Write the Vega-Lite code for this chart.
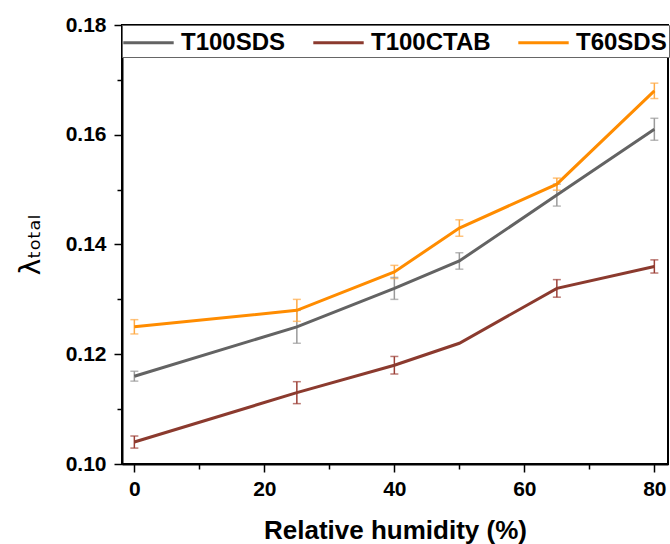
{
  "$schema": "https://vega.github.io/schema/vega-lite/v6.json",
  "width": 546,
  "height": 439,
  "autosize": {"type": "none"},
  "padding": {"left": 122, "top": 25, "right": 2, "bottom": 80},
  "background": "white",
  "config": {
    "view": {"stroke": "black", "strokeWidth": 2},
    "font": "Liberation Sans",
    "axis": {
      "grid": false,
      "domainColor": "black",
      "domainWidth": 2,
      "tickColor": "black",
      "tickWidth": 1.5,
      "labelFont": "Liberation Sans",
      "labelFontWeight": "bold",
      "labelFontSize": 21,
      "labelColor": "black",
      "titleFont": "Liberation Sans",
      "titleFontWeight": "bold",
      "titleColor": "black"
    }
  },
  "data": {
    "values": [
      {"series": "T100SDS", "rh": 0, "lam": 0.116, "lo": 0.1151, "hi": 0.1169},
      {"series": "T100SDS", "rh": 25, "lam": 0.125, "lo": 0.122, "hi": 0.128},
      {"series": "T100SDS", "rh": 40, "lam": 0.132, "lo": 0.130, "hi": 0.134},
      {"series": "T100SDS", "rh": 50, "lam": 0.137, "lo": 0.1355, "hi": 0.1385},
      {"series": "T100SDS", "rh": 65, "lam": 0.149, "lo": 0.147, "hi": 0.151},
      {"series": "T100SDS", "rh": 80, "lam": 0.161, "lo": 0.159, "hi": 0.163},
      {"series": "T100CTAB", "rh": 0, "lam": 0.104, "lo": 0.1029, "hi": 0.1051},
      {"series": "T100CTAB", "rh": 25, "lam": 0.113, "lo": 0.111, "hi": 0.115},
      {"series": "T100CTAB", "rh": 40, "lam": 0.118, "lo": 0.1164, "hi": 0.1196},
      {"series": "T100CTAB", "rh": 50, "lam": 0.122, "lo": null, "hi": null},
      {"series": "T100CTAB", "rh": 65, "lam": 0.132, "lo": 0.1304, "hi": 0.1336},
      {"series": "T100CTAB", "rh": 80, "lam": 0.136, "lo": 0.1348, "hi": 0.1372},
      {"series": "T60SDS", "rh": 0, "lam": 0.125, "lo": 0.1237, "hi": 0.1263},
      {"series": "T60SDS", "rh": 25, "lam": 0.128, "lo": 0.126, "hi": 0.130},
      {"series": "T60SDS", "rh": 40, "lam": 0.135, "lo": 0.1338, "hi": 0.1362},
      {"series": "T60SDS", "rh": 50, "lam": 0.143, "lo": 0.1415, "hi": 0.1445},
      {"series": "T60SDS", "rh": 65, "lam": 0.151, "lo": 0.1499, "hi": 0.1521},
      {"series": "T60SDS", "rh": 80, "lam": 0.168, "lo": 0.1666, "hi": 0.1694}
    ]
  },
  "layer": [
    {
      "mark": {"type": "rule", "strokeWidth": 1.5},
      "encoding": {
        "x": {"field": "rh", "type": "quantitative", "scale": {"domain": [-1.9, 82.1], "nice": false, "zero": false},
          "axis": {"values": [10, 30, 50, 70], "labels": false, "domain": false, "tickSize": 5, "title": null, "orient": "bottom"}},
        "y": {"field": "lo", "type": "quantitative", "scale": {"domain": [0.10, 0.18], "nice": false, "zero": false},
          "axis": {"values": [0.11, 0.13, 0.15, 0.17], "labels": false, "domain": false, "tickSize": 5, "title": null, "orient": "left"}},
        "y2": {"field": "hi"},
        "color": {"field": "series", "type": "nominal", "legend": null,
          "scale": {"domain": ["T100SDS", "T100CTAB", "T60SDS"], "range": ["#9a9a9a", "#9c3f36", "#ffaa44"]}}
      }
    },
    {
      "mark": {"type": "tick", "orient": "horizontal", "size": 8, "thickness": 1.5},
      "encoding": {
        "x": {"field": "rh", "type": "quantitative", "axis": null},
        "y": {"field": "lo", "type": "quantitative", "axis": null},
        "color": {"field": "series", "type": "nominal", "legend": null,
          "scale": {"domain": ["T100SDS", "T100CTAB", "T60SDS"], "range": ["#9a9a9a", "#9c3f36", "#ffaa44"]}}
      }
    },
    {
      "mark": {"type": "tick", "orient": "horizontal", "size": 8, "thickness": 1.5},
      "encoding": {
        "x": {"field": "rh", "type": "quantitative", "axis": null},
        "y": {"field": "hi", "type": "quantitative", "axis": null},
        "color": {"field": "series", "type": "nominal", "legend": null,
          "scale": {"domain": ["T100SDS", "T100CTAB", "T60SDS"], "range": ["#9a9a9a", "#9c3f36", "#ffaa44"]}}
      }
    },
    {
      "mark": {"type": "line", "strokeWidth": 3},
      "encoding": {
        "x": {"field": "rh", "type": "quantitative",
          "axis": {"values": [0, 20, 40, 60, 80], "tickSize": 8, "labelPadding": 6, "title": "Relative humidity (%)", "titleFontSize": 26, "titlePadding": 18, "orient": "bottom"}},
        "y": {"field": "lam", "type": "quantitative",
          "axis": {"values": [0.10, 0.12, 0.14, 0.16, 0.18], "format": ".2f", "tickSize": 8, "labelPadding": 8, "title": "λₜₒₜₐₗ", "titleFontSize": 28, "titleFontWeight": "normal", "titleFont": "DejaVu Sans", "titlePadding": 20, "orient": "left"}},
        "color": {"field": "series", "type": "nominal",
          "scale": {"domain": ["T100SDS", "T100CTAB", "T60SDS"], "range": ["#636363", "#8b3a2e", "#ff8c00"]},
          "legend": {
            "title": null,
            "orient": "none",
            "legendX": 0,
            "legendY": 0,
            "direction": "horizontal",
            "symbolType": "M-1.8,0H1.8",
            "symbolSize": 784,
            "symbolStrokeWidth": 3,
            "symbolOffset": 9,
            "labelFont": "Liberation Sans",
            "labelFontWeight": "bold",
            "labelFontSize": 24,
            "labelColor": "black",
            "labelOffset": 17,
            "columnPadding": 21,
            "padding": 2,
            "strokeColor": "#666666",
            "fillColor": "white"
          }
        }
      }
    }
  ],
  "resolve": {"axis": {"x": "independent", "y": "independent"}, "scale": {"color": "independent"}}
}
